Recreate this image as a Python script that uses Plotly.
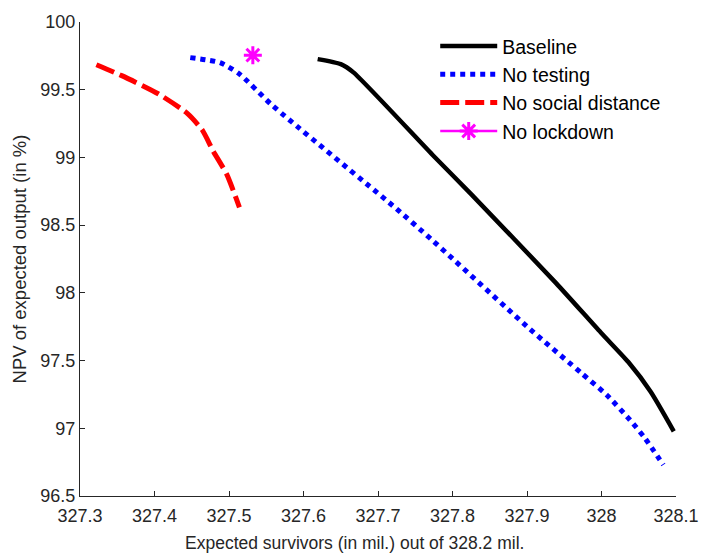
import plotly.graph_objects as go

# Data
base_x = [327.619, 327.650, 327.667, 327.773, 327.825, 327.939, 327.999, 328.036, 328.066, 328.097]
base_y = [99.726, 99.689, 99.628, 99.020, 98.729, 98.072, 97.707, 97.489, 97.270, 96.978]

notest_x = [327.448, 327.488, 327.514, 327.558, 327.720, 327.773, 327.904, 327.974, 328.007, 328.038, 328.058, 328.083]
notest_y = [99.737, 99.700, 99.616, 99.385, 98.643, 98.388, 97.732, 97.403, 97.246, 97.063, 96.929, 96.730]

nosd_x = [327.322, 327.356, 327.405, 327.444, 327.464, 327.479, 327.497, 327.514]
nosd_y = [99.684, 99.604, 99.470, 99.325, 99.203, 99.045, 98.875, 98.632]

nolock_x = [327.532]
nolock_y = [99.755]

x_ticks = [327.3, 327.4, 327.5, 327.6, 327.7, 327.8, 327.9, 328.0, 328.1]
x_ticklabels = ["327.3", "327.4", "327.5", "327.6", "327.7", "327.8", "327.9", "328", "328.1"]
y_ticks = [96.5, 97, 97.5, 98, 98.5, 99, 99.5, 100]
y_ticklabels = ["96.5", "97", "97.5", "98", "98.5", "99", "99.5", "100"]

FONT = "Liberation Sans, Arial, sans-serif"
AX = "#262626"

fig = go.Figure()
fig.add_trace(go.Scatter(x=base_x, y=base_y, mode="lines", name="Baseline",
                         line=dict(color="black", width=4.5, shape="spline", smoothing=0.6)))
fig.add_trace(go.Scatter(x=notest_x, y=notest_y, mode="lines", name="No testing",
                         line=dict(color="#0000ff", width=5, dash="5px,5px", shape="spline", smoothing=0.6)))
fig.add_trace(go.Scatter(x=nosd_x, y=nosd_y, mode="lines", name="No social distance",
                         line=dict(color="#ff0000", width=5, dash="19px,6px", shape="spline", smoothing=0.6)))
fig.add_trace(go.Scatter(x=nolock_x, y=nolock_y, mode="lines+markers", name="No lockdown",
                         line=dict(color="#ff00ff", width=2.5),
                         marker=dict(symbol="asterisk-open", size=15, color="#ff00ff",
                                     line=dict(color="#ff00ff", width=3))))

fig.update_layout(
    width=711, height=555,
    margin=dict(l=80, r=22, t=16, b=59),
    paper_bgcolor="white", plot_bgcolor="white",
    font=dict(family=FONT, size=16, color=AX),
    showlegend=True,
    legend=dict(x=0.596, y=0.99, xanchor="left", yanchor="top",
                bgcolor="rgba(0,0,0,0)", font=dict(family=FONT, size=19.5, color="black"),
                tracegroupgap=0, itemwidth=57),
    xaxis=dict(range=[327.3, 328.1], tickvals=x_ticks, ticktext=x_ticklabels,
               showgrid=False, zeroline=False, showline=True, linecolor=AX, linewidth=1,
               ticks="inside", ticklen=5, tickcolor=AX, ticklabelstandoff=3,
               ticklabeloverflow="allow",
               tickfont=dict(size=18, color=AX)),
    yaxis=dict(range=[96.5, 100], tickvals=y_ticks, ticktext=y_ticklabels,
               showgrid=False, zeroline=False, showline=True, linecolor=AX, linewidth=1,
               ticks="inside", ticklen=5, tickcolor=AX,
               title=dict(text="NPV of expected output (in %)", standoff=8,
                          font=dict(size=18.5, color=AX)),
               tickfont=dict(size=18, color=AX)),
    annotations=[dict(text="Expected survivors (in mil.) out of 328.2 mil.",
                      xref="paper", yref="paper", x=0.46, y=0, yshift=-47,
                      xanchor="center", yanchor="middle", showarrow=False,
                      font=dict(family=FONT, size=17.5, color=AX))],
)

fig.write_html("out.html")
